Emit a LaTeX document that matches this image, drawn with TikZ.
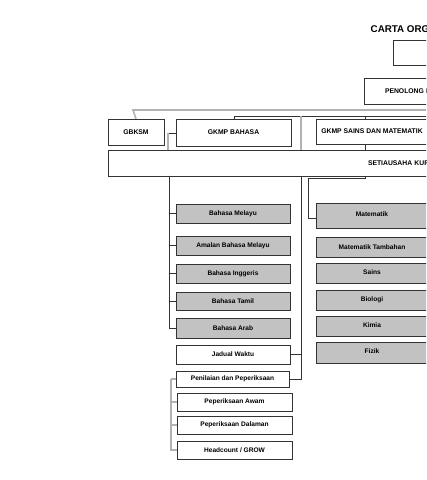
\documentclass[tikz,border=0pt]{standalone}
\usepackage{fontspec}
\setmainfont{Liberation Sans}
\begin{document}
\begin{tikzpicture}[x=1bp,y=-1bp,
  lbl/.style={font=\bfseries\fontsize{6.6bp}{7.8bp}\selectfont},
  hlbl/.style={font=\bfseries\fontsize{6.8bp}{8bp}\selectfont},
  wbox/.style={draw=black!80,line width=0.6bp,fill=white,inner sep=0pt,lbl},
  gbox/.style={wbox,fill=black!24},
  hbox/.style={wbox,hlbl},
  dk/.style={draw=black!80,line width=0.6bp},
  gr/.style={draw=black!30,line width=1.6bp}]
\useasboundingbox (0,0) rectangle (426,480);
\clip (0,0) rectangle (426,480);
% title
\node[anchor=west,inner sep=0pt,font=\bfseries\fontsize{9.8bp}{11bp}\selectfont] (title) at (370.5,29.5) {CARTA ORGANISASI};
% top boxes
\node[wbox,minimum width=66bp,minimum height=25bp] (top) at (426,52.5) {};
\node[hbox,minimum width=124bp,minimum height=26.5bp,text width=110bp,align=left] (pen) at (426,91.5) {\hspace*{14bp}PENOLONG KANAN};
% level 2
\node[hbox,minimum width=56bp,minimum height=26bp] (gbksm) at (136,132) {GBKSM};
\node[hbox,minimum width=115bp,minimum height=27bp] (gkb) at (233.5,132.5) {GKMP BAHASA};
\node[hbox,minimum width=112bp,minimum height=25bp] (gks) at (372,131.5) {GKMP SAINS DAN MATEMATIK};
\node[hbox,minimum width=392bp,minimum height=26bp,text width=380bp,align=left] (set) at (304,163) {\hspace*{254bp}SETIAUSAHA KURIKULUM};
% connectors level 2
\coordinate (g1) at (133,110);
\coordinate (g1e) at (430,110);
\draw[gr] (gbksm.north) -- (g1) -- (g1e);
\coordinate (d1) at (234,116);
\coordinate (d1e) at (430,116);
\draw[dk] (gkb.north -| d1) -- (d1) -- (d1e);
\draw[gr] (301,116) -- (set.north -| 301,0);
\draw[dk] (365,116) -- (gks.north -| 365,0);
\draw[dk] (gks.south -| 365,0) -- (set.north -| 365,0);
\coordinate (b1) at (168,133);
\draw[dk] (gkb.west |- b1) -- (b1);
\draw[gr] (b1) -- (set.north -| b1);
% left column
\node[gbox,minimum width=114bp,minimum height=19bp] (bm) at (233,213.5) {Bahasa Melayu};
\node[gbox,minimum width=114bp,minimum height=19bp] (abm) at (233,245.5) {Amalan Bahasa Melayu};
\node[gbox,minimum width=114bp,minimum height=19bp] (bi) at (233,273.5) {Bahasa Inggeris};
\node[gbox,minimum width=114bp,minimum height=18bp] (bt) at (233,301) {Bahasa Tamil};
\node[gbox,minimum width=114bp,minimum height=20bp] (ba) at (233,328) {Bahasa Arab};
\node[wbox,minimum width=114bp,minimum height=19bp] (jw) at (233,354.5) {Jadual Waktu};
\node[wbox,minimum width=113bp,minimum height=16bp] (pp) at (232.5,379) {Penilaian dan Peperiksaan};
\node[wbox,minimum width=115bp,minimum height=18bp] (pa) at (234.5,402) {Peperiksaan Awam};
\node[wbox,minimum width=115bp,minimum height=18bp] (pd) at (234.5,425) {Peperiksaan Dalaman};
\node[wbox,minimum width=115bp,minimum height=18bp] (hc) at (234.5,450) {Headcount / GROW};
% left connectors
\coordinate (lt) at (169.5,176);
\foreach \n in {bm,abm,bi,bt,ba} \draw[dk] (lt) |- (\n.west);
\coordinate (mt) at (301,176);
\draw[dk] (mt) |- (jw.east);
\draw[dk] (mt) |- (pp.east);
\coordinate (pt) at (171,379);
\draw[gr] (pt) |- (hc.west);
\foreach \n in {pp,pa,pd} \draw[gr,line width=1.2bp] (pt) |- (\n.west);
% right column
\node[gbox,minimum width=112bp,minimum height=25bp,text depth=2.5bp] (mm) at (372,215.5) {Matematik};
\node[gbox,minimum width=112bp,minimum height=20bp] (mtb) at (372,247) {Matematik Tambahan};
\node[gbox,minimum width=112bp,minimum height=20bp,text depth=1.5bp] (sa) at (372,273) {Sains};
\node[gbox,minimum width=112bp,minimum height=20bp,text depth=1.5bp] (bio) at (372,300) {Biologi};
\node[gbox,minimum width=112bp,minimum height=20bp,text depth=1.5bp] (ki) at (372,326) {Kimia};
\node[gbox,minimum width=112bp,minimum height=21bp,text depth=2bp] (fi) at (372,352.5) {Fizik};
\coordinate (rt) at (365,176);
\coordinate (rb) at (308,178);
\draw[dk] (rt) |- (rb) |- (mm.west |- 0,218);
\end{tikzpicture}
\end{document}
